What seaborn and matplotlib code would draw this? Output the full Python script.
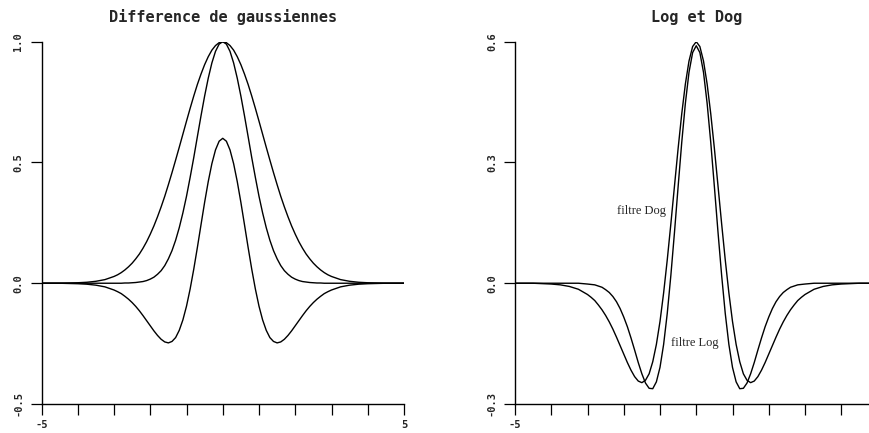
import matplotlib
matplotlib.use("Agg")
import matplotlib.pyplot as plt
import seaborn as sns

# sample positions (read along the x axis)
x_vals = [-5.0, -4.5, -4.0, -3.75, -3.5, -3.25, -3.0, -2.9, -2.8, -2.7, -2.6, -2.5, -2.4, -2.3,
          -2.2, -2.1, -2.0, -1.9, -1.8, -1.7, -1.6, -1.5, -1.4, -1.3, -1.2, -1.1,
          -1.0, -0.9, -0.8, -0.7, -0.6, -0.5, -0.4, -0.3, -0.2, -0.1,
          0.0,
          0.1, 0.2, 0.3, 0.4, 0.5, 0.6, 0.7, 0.8, 0.9, 1.0,
          1.1, 1.2, 1.3, 1.4, 1.5, 1.6, 1.7, 1.8, 1.9, 2.0,
          2.1, 2.2, 2.3, 2.4, 2.5, 2.6, 2.7, 2.8, 2.9, 3.0,
          3.25, 3.5, 3.75, 4.0, 4.5, 5.0]

# left panel: wide gaussian, narrow gaussian and their difference
g_wide = [0.0, 0.0, 0.002, 0.004, 0.008, 0.015, 0.028, 0.035, 0.044, 0.055, 0.068, 0.083, 0.101, 0.121,
          0.145, 0.172, 0.203, 0.237, 0.275, 0.316, 0.360, 0.408, 0.458, 0.510, 0.563, 0.617,
          0.671, 0.724, 0.775, 0.823, 0.866, 0.905, 0.938, 0.965, 0.984, 0.996,
          1.0,
          0.996, 0.984, 0.965, 0.938, 0.905, 0.866, 0.823, 0.775, 0.724, 0.671,
          0.617, 0.563, 0.510, 0.458, 0.408, 0.360, 0.316, 0.275, 0.237, 0.203,
          0.172, 0.145, 0.121, 0.101, 0.083, 0.068, 0.055, 0.044, 0.035, 0.028,
          0.015, 0.008, 0.004, 0.002, 0.0, 0.0]
g_narrow = [0.0, 0.0, 0.0, 0.0, 0.0, 0.0, 0.0, 0.0, 0.0, 0.001, 0.001, 0.002, 0.003, 0.005,
            0.007, 0.011, 0.017, 0.025, 0.037, 0.052, 0.073, 0.101, 0.135, 0.178, 0.230, 0.291,
            0.360, 0.438, 0.520, 0.607, 0.693, 0.775, 0.849, 0.912, 0.960, 0.990,
            1.0,
            0.990, 0.960, 0.912, 0.849, 0.775, 0.693, 0.607, 0.520, 0.438, 0.360,
            0.291, 0.230, 0.178, 0.135, 0.101, 0.073, 0.052, 0.037, 0.025, 0.017,
            0.011, 0.007, 0.005, 0.003, 0.002, 0.001, 0.001, 0.0, 0.0, 0.0,
            0.0, 0.0, 0.0, 0.0, 0.0, 0.0]
dog = [0.0, 0.0, -0.002, -0.004, -0.008, -0.015, -0.028, -0.035, -0.043, -0.054, -0.066, -0.080, -0.096, -0.114,
       -0.134, -0.155, -0.176, -0.197, -0.216, -0.232, -0.243, -0.247, -0.241, -0.225, -0.195, -0.152,
       -0.095, -0.024, 0.058, 0.148, 0.242, 0.335, 0.421, 0.495, 0.552, 0.588,
       0.600,
       0.588, 0.552, 0.495, 0.421, 0.335, 0.242, 0.148, 0.058, -0.024, -0.095,
       -0.152, -0.195, -0.225, -0.241, -0.247, -0.243, -0.232, -0.216, -0.197, -0.176,
       -0.155, -0.134, -0.114, -0.096, -0.080, -0.066, -0.054, -0.043, -0.035, -0.028,
       -0.015, -0.008, -0.004, -0.002, 0.0, 0.0]

# right panel: laplacian of gaussian (the DoG curve is drawn again)
log = [0.0, 0.0, 0.0, 0.0, 0.0, 0.0, -0.002, -0.003, -0.004, -0.007, -0.010, -0.016, -0.023, -0.033,
       -0.046, -0.063, -0.084, -0.108, -0.136, -0.166, -0.197, -0.225, -0.248, -0.261, -0.262, -0.245,
       -0.209, -0.152, -0.075, 0.020, 0.127, 0.240, 0.350, 0.447, 0.524, 0.573,
       0.590,
       0.573, 0.524, 0.447, 0.350, 0.240, 0.127, 0.020, -0.075, -0.152, -0.209,
       -0.245, -0.262, -0.261, -0.248, -0.225, -0.197, -0.166, -0.136, -0.108, -0.084,
       -0.063, -0.046, -0.033, -0.023, -0.016, -0.010, -0.007, -0.004, -0.003, -0.002,
       0.0, 0.0, 0.0, 0.0, 0.0, 0.0]

titles = ["Difference de gaussiennes", "Log et Dog"]
x_ticks = [-5, -4, -3, -2, -1, 0, 1, 2, 3, 4, 5]
left_xlabels = ["-5", "", "", "", "", "", "", "", "", "", "5"]
right_xlabels = ["-5", "", "", "", "", "", "", "", "", "", ""]  # the 5 falls off the page
left_yticks = [-0.5, 0.0, 0.5, 1.0]
left_ylabels = ["-0.5", "0.0", "0.5", "1.0"]
right_yticks = [-0.3, 0.0, 0.3, 0.6]
right_ylabels = ["-0.3", "0.0", "0.3", "0.6"]

sns.set_style("ticks")
plt.rcParams["font.family"] = ["DejaVu Sans Mono"]
plt.rcParams["font.weight"] = "bold"

fig = plt.figure(figsize=(8.69, 4.33), dpi=100)
ax1 = fig.add_axes([41.5 / 869, 29 / 433, 362.5 / 869, 362.3 / 433])
ax2 = fig.add_axes([515 / 869, 29 / 433, 362.5 / 869, 362.3 / 433])

for y in [g_wide, g_narrow, dog]:
    sns.lineplot(x=x_vals, y=y, ax=ax1, color="black", linewidth=1.0)
for y in [dog, log]:
    sns.lineplot(x=x_vals, y=y, ax=ax2, color="black", linewidth=1.0)

ax1.set_ylim(-0.5, 1.0)
ax1.set_yticks(left_yticks)
ax1.set_yticklabels(left_ylabels)
ax2.set_ylim(-0.3, 0.6)
ax2.set_yticks(right_yticks)
ax2.set_yticklabels(right_ylabels)

for ax, title, xlabs in zip([ax1, ax2], titles, [left_xlabels, right_xlabels]):
    ax.set_xlim(-5, 5)
    ax.set_xticks(x_ticks)
    ax.set_xticklabels(xlabs)
    ax.set_xlabel("")
    ax.set_ylabel("")
    ax.set_title(title, fontsize=11, fontweight="bold", pad=14)
    for side in ["top", "right"]:
        ax.spines[side].set_visible(False)
    for side in ["left", "bottom"]:
        ax.spines[side].set_linewidth(1.0)
        ax.spines[side].set_color("black")
    ax.tick_params(axis="both", direction="out", length=8, width=0.9,
                   color="black", labelsize=7.5)
    ax.tick_params(axis="y", labelrotation=90, pad=5)
    ax.tick_params(axis="x", pad=3.5)
    for lab in ax.get_yticklabels():
        lab.set_va("center")

ax2.text(-1.5, 0.18, "filtre Dog", ha="center", va="center",
         family="Liberation Serif", fontweight="normal", fontsize=9)
ax2.text(-0.04, -0.149, "filtre Log", ha="center", va="center",
         family="Liberation Serif", fontweight="normal", fontsize=9)

fig.savefig("out.png", dpi=100)
